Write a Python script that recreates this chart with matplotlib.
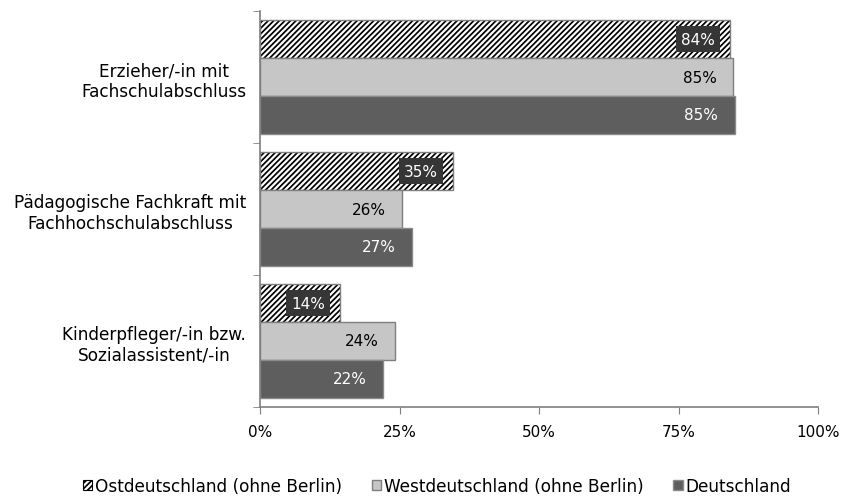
import numpy as np
import matplotlib
matplotlib.use("Agg")
import matplotlib.pyplot as plt
from matplotlib.patches import Patch

categories = ["Erzieher/-in mit\nFachschulabschluss",
              "Pädagogische Fachkraft mit\nFachhochschulabschluss",
              "Kinderpfleger/-in bzw.\nSozialassistent/-in"]
series_names = ["Ostdeutschland (ohne Berlin)", "Westdeutschland (ohne Berlin)", "Deutschland"]
ost = [84.2, 34.6, 14.3]
west = [84.8, 25.5, 24.2]
deutschland = [85.1, 27.3, 22.1]

plt.rcParams['font.family'] = ['DejaVu Sans']
plt.rcParams['hatch.linewidth'] = 1.25

fs_text = 12.2   # category labels and legend
fs_num = 11      # value and tick labels
fig = plt.figure(figsize=(8.42, 5.02), dpi=100)
ax = fig.add_axes([260 / 842, 1 - 408 / 502, 558 / 842, 396 / 502])

h = 0.2857
y = np.arange(len(categories))
edge = '#7f7f7f'

# hatch takes the edge colour, so draw the hatch in black and the outline on top in grey
b1 = ax.barh(y - h, ost, height=h, color='white', hatch='//////', edgecolor='black', linewidth=0)
ax.barh(y - h, ost, height=h, fill=False, edgecolor=edge, linewidth=1)
b2 = ax.barh(y, west, height=h, color='#c6c6c6', edgecolor=edge, linewidth=1)
b3 = ax.barh(y + h, deutschland, height=h, color='#5e5e5e', edgecolor='#8a8a8a', linewidth=1)

# value labels
for bar, v in zip(b1, ost):
    ax.annotate(f"{v:.0f}%", (bar.get_width(), bar.get_y() + h / 2),
                xytext=(-15, 0), textcoords='offset pixels', ha='right', va='center',
                fontsize=fs_num, color='white',
                bbox=dict(boxstyle='square,pad=0.35', fc='#363636', ec='none'))
for bar, v in zip(b2, west):
    ax.annotate(f"{v:.0f}%", (bar.get_width(), bar.get_y() + h / 2),
                xytext=(-16, 0), textcoords='offset pixels', ha='right', va='center',
                fontsize=fs_num, color='black')
for bar, v in zip(b3, deutschland):
    ax.annotate(f"{v:.0f}%", (bar.get_width(), bar.get_y() + h / 2),
                xytext=(-17, 0), textcoords='offset pixels', ha='right', va='center',
                fontsize=fs_num, color='white')

ax.set_xlim(0, 100)
ax.set_ylim(2.5, -0.5)
ax.set_xticks([0, 25, 50, 75, 100])
ax.set_xticklabels(["0%", "25%", "50%", "75%", "100%"], fontsize=fs_num)
ax.set_yticks(y)
ax.set_yticklabels(categories, fontsize=fs_text, ha='right', multialignment='center')
ax.tick_params(axis='y', length=0, pad=10)
ax.set_yticks([-0.5, 0.5, 1.5, 2.5], minor=True)
ax.tick_params(axis='y', which='minor', length=5, color=edge)
ax.tick_params(axis='x', length=5, color=edge, pad=7)

for s in ['top', 'right']:
    ax.spines[s].set_visible(False)
for s in ['left', 'bottom']:
    ax.spines[s].set_color(edge)
    ax.spines[s].set_linewidth(1.2)

handles = [Patch(facecolor='white', hatch='//////', edgecolor='black', linewidth=0.8),
           Patch(facecolor='#c6c6c6', edgecolor=edge),
           Patch(facecolor='#5e5e5e', edgecolor='#8a8a8a')]
fig.legend(handles, series_names, loc='center', bbox_to_anchor=(437 / 842, 1 - 487 / 502),
           ncol=3, frameon=False, fontsize=fs_text, handlelength=0.55, handleheight=0.55,
           handletextpad=0.18, columnspacing=1.75)

fig.savefig("out.png", dpi=100)
